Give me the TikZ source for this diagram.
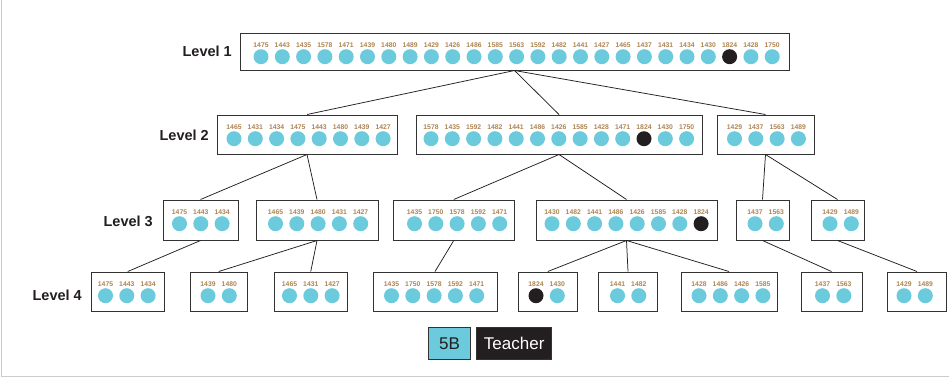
\documentclass[tikz,border=0pt]{standalone}
\usepackage{fontspec}
\setmainfont{Liberation Sans}
\usetikzlibrary{fit}

\definecolor{memblue}{HTML}{6BCBDC}
\definecolor{inkdark}{HTML}{231F20}
\definecolor{numtan}{HTML}{AE8552}
\definecolor{edgegray}{HTML}{333333}

\tikzset{
  grpbox/.style={draw=edgegray, line width=1pt, fill=white, inner sep=0pt},
  member/.style={circle, fill=memblue, minimum size=15pt, inner sep=0pt},
  teacher/.style={circle, fill=inkdark, minimum size=15pt, inner sep=0pt},
  tag/.style={font=\bfseries\fontsize{6.8}{7}\selectfont, text=numtan, inner sep=0pt},
  lvl/.style={font=\bfseries\fontsize{14.5}{16}\selectfont, text=inkdark, anchor=east, inner sep=0pt},
  link/.style={draw=inkdark, line width=0.75pt},
  keybox/.style={draw=edgegray, line width=0.8pt, inner sep=0pt,
    font=\fontsize{17}{18}\selectfont, minimum height=32pt}
}

% group box: name, left, top, right, bottom, first circle x, list of members
\newcommand\grp[7]{%
  \node[grpbox, fit={(#2,#3) (#4,#5)}] (#1) {};
  \foreach \v [count=\i from 0] in {#7} {
    \pgfmathsetmacro\cx{#6+21.3*\i}
    \node[tag] (#1-t\i) at (\cx,#3+12.3) {\v};
    \ifnum\v=1824
      \node[teacher] (#1-c\i) at (\cx,#3+23.7) {};
    \else
      \node[member] (#1-c\i) at (\cx,#3+23.7) {};
    \fi
  }%
}

\begin{document}
\begin{tikzpicture}[x=1pt,y=-1pt]
\useasboundingbox (0,0) rectangle (949,378);
\fill[white] (0,0) rectangle (949,378);
\draw[gray!40, line width=1pt] (1,0) -- (1,376) -- (949,376);

% level names
\node[lvl] (lv1) at (232,51) {Level 1};
\node[lvl] (lv2) at (209,135) {Level 2};
\node[lvl] (lv3) at (153,221) {Level 3};
\node[lvl] (lv4) at (82,295) {Level 4};

% level 1
\grp{a}{240}{33}{789}{70}{261}{1475,1443,1435,1578,1471,1439,1480,1489,1429,1426,1486,1585,1563,1592,1482,1441,1427,1465,1437,1431,1434,1430,1824,1428,1750}

% level 2
\grp{b1}{217}{115}{397}{154}{234}{1465,1431,1434,1475,1443,1480,1439,1427}
\grp{b2}{416}{115}{702}{154}{431}{1578,1435,1592,1482,1441,1486,1426,1585,1428,1471,1824,1430,1750}
\grp{b3}{717}{115}{814}{154}{734.5}{1429,1437,1563,1489}

% level 3
\grp{c1}{163}{200}{238}{240}{179.5}{1475,1443,1434}
\grp{c2}{256}{200}{378}{240}{275.5}{1465,1439,1480,1431,1427}
\grp{c3}{393.5}{200}{514}{240}{414.5}{1435,1750,1578,1592,1471}
\grp{c4}{536}{200}{717}{240}{552}{1430,1482,1441,1486,1426,1585,1428,1824}
\grp{c5}{736}{200}{789}{240}{755}{1437,1563}
\grp{c6}{811}{200}{864}{240}{830}{1429,1489}

% level 4
\grp{d1}{91}{272}{164.5}{311}{105.5}{1475,1443,1434}
\grp{d2}{190}{272}{247.5}{311}{208}{1439,1480}
\grp{d3}{274}{272}{347.5}{311}{289.5}{1465,1431,1427}
\grp{d4}{373}{272}{497}{311}{391.5}{1435,1750,1578,1592,1471}
\grp{d5}{518}{272}{577.5}{311}{536}{1824,1430}
\grp{d6}{598.5}{272}{657.5}{311}{617.5}{1441,1482}
\grp{d7}{681}{272}{777}{311}{699}{1428,1486,1426,1585}
\grp{d8}{801}{272}{862}{311}{822.5}{1437,1563}
\grp{d9}{887.5}{272}{946.5}{311}{904}{1429,1489}

% tree links
\draw[link] (a.south) -- (b1.north);
\draw[link] (a.south) -- (b2.north);
\draw[link] (a.south) -- (b3.north);
\draw[link] (b1.south) -- (c1.north);
\draw[link] (b1.south) -- (c2.north);
\draw[link] (b2.south) -- (c3.north);
\draw[link] (b2.south) -- (c4.north);
\draw[link] (b3.south) -- (c5.north);
\draw[link] (b3.south) -- (c6.north);
\draw[link] (c1.south) -- (d1.north);
\draw[link] (c2.south) -- (d2.north);
\draw[link] (c2.south) -- (d3.north);
\draw[link] (c3.south) -- (d4.north);
\draw[link] (c4.south) -- (d5.north);
\draw[link] (c4.south) -- (d6.north);
\draw[link] (c4.south) -- (d7.north);
\draw[link] (c5.south) -- (d8.north);
\draw[link] (c6.south) -- (d9.north);

% key
\node[keybox, fill=memblue, text=inkdark, minimum width=42.5pt] (k1) at (449.5,343.5) {5B};
\node[keybox, fill=inkdark, text=white, minimum width=75pt] (k2) at (514.2,343.5) {Teacher};
\end{tikzpicture}
\end{document}
